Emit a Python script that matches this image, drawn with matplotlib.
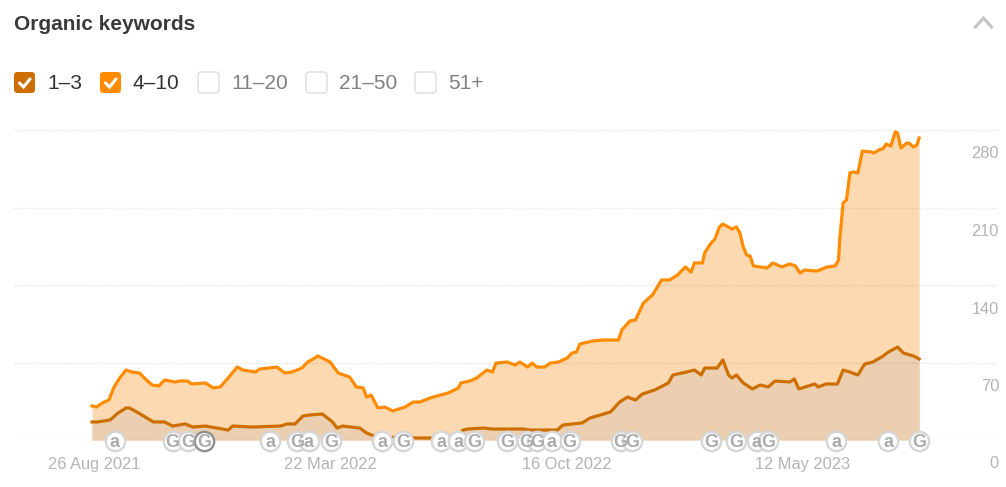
import numpy as np
import matplotlib
matplotlib.use("Agg")
import matplotlib.pyplot as plt
import matplotlib.dates as mdates
from matplotlib.patches import FancyBboxPatch
from matplotlib.transforms import ScaledTranslation

plt.rcParams['font.family'] = ['Liberation Sans', 'DejaVu Sans']

TITLE = "Organic keywords"
START = np.datetime64('2021-08-24')
TICK_DATES = ['2021-08-26', '2022-03-22', '2022-10-16', '2023-05-12']
TICK_LABELS = ['26 Aug 2021', '22 Mar 2022', '16 Oct 2022', '12 May 2023']
Y_TICKS = [0, 70, 140, 210, 280]

legend_labels = ['1–3', '4–10', '11–20', '21–50', '51+']
legend_checked = [True, True, False, False, False]

days_4_10 = [0,4,9,15,19,25,30,35,42,47,53,59,64,73,78,84,88,100,107,113,120,128,133,144,148,163,170,176,185,190,195,199,
             210,217,227,233,239,242,246,252,258,265,276,283,289,298,307,314,323,325,333,339,348,353,356,366,373,377,384,
             388,392,399,404,411,419,423,427,430,441,450,461,464,467,474,479,486,494,502,509,516,523,528,531,538,540,545,
             549,553,556,564,568,571,574,577,580,583,595,600,608,615,620,624,628,639,648,655,658,659,661,662,665,668,671,
             675,679,687,689,695,697,700,704,708,710,713,718,720,724,727,729]
kw_4_10 = [30.7,29.8,33.4,36.1,47.0,56.9,63.2,61.4,60.5,55.1,49.7,48.8,54.2,52.4,53.3,53.3,50.6,51.5,47.0,47.9,56.0,65.9,63.2,61.4,
           64.1,65.9,60.5,61.4,65.0,70.4,73.2,75.9,70.4,60.5,56.9,47.9,47.0,38.8,40.6,28.9,29.8,26.2,29.8,34.3,34.3,37.9,40.6,42.5,
           47.0,51.5,53.3,56.0,63.2,61.4,69.5,70.4,67.7,70.4,65.9,69.5,65.9,65.9,69.5,70.4,74.1,78.6,79.5,86.7,89.4,90.3,90.3,90.3,
           99.4,107.5,108.4,123.7,131.0,144.5,144.5,149.0,156.3,151.7,159.9,159.9,168.9,177.0,181.5,192.4,195.1,190.6,192.4,187.0,
           174.3,167.1,166.2,157.2,155.4,159.9,156.3,159.0,157.2,150.8,153.5,152.6,156.3,157.2,162.6,180.6,203.2,214.1,216.8,241.2,
           242.1,241.2,261.0,260.1,259.2,262.8,262.8,267.3,265.5,278.2,277.3,263.7,268.2,268.2,264.6,266.4,272.8]

days_1_3 = [0,5,16,23,30,33,41,54,64,71,82,89,100,115,120,124,141,166,172,179,186,192,203,212,216,221,236,242,251,289,300,320,327,
            331,345,353,380,386,410,415,432,439,448,457,465,472,479,485,496,508,512,524,531,537,540,551,556,561,564,568,574,582,
            589,596,602,615,619,623,637,640,647,657,662,668,675,681,688,696,702,710,715,724,729]
kw_1_3 = [16.3,16.3,18.1,24.4,28.9,28.9,24.4,16.3,16.3,12.6,14.5,11.7,12.6,9.9,9.0,12.6,11.7,12.6,14.5,14.5,21.7,22.6,23.5,16.3,10.8,
          12.6,10.8,6.3,2.7,1.8,1.8,1.8,9.0,9.9,10.8,9.9,9.9,9.0,9.0,13.5,15.4,19.9,22.6,25.3,34.3,38.8,36.1,41.5,45.2,51.5,58.7,
          61.4,63.2,58.7,65.0,65.0,72.3,58.7,56.0,58.7,51.5,46.1,49.7,47.9,53.3,52.4,55.1,46.1,50.6,47.9,50.6,50.6,63.2,61.4,58.7,
          68.6,70.4,75.0,79.5,84.0,78.6,75.9,73.2]

event_days = [20,71,85,99,157,181,191,211,256,274,308,323,337,366,383,392,405,421,466,476,546,568,586,596,656,702,729]
event_kinds = list("aGGGaGaGaGaaGGGGaGGGGGaGaaG")
HIGHLIGHT_EVENT = 99

C_DARK = '#cc6f00'
C_ORANGE = '#ff8c00'

W, H = 1006, 487
fig = plt.figure(figsize=(W / 100, H / 100), dpi=100, facecolor='white')


def to_dates(days):
    return START + np.array(days, dtype='timedelta64[D]')


# Plot axes: gridlines run from x=14 to x=998 px, y=130 to y=440 px
ax = fig.add_axes([14 / W, 1 - 440 / H, (998 - 14) / W, 310 / H])
PX_PER_DAY = 1.1346
ax.set_xlim(mdates.date2num(START) - (92 - 14) / PX_PER_DAY,
            mdates.date2num(START) + (998 - 92) / PX_PER_DAY)
ax.set_ylim(0, 280)
for s in ax.spines.values():
    s.set_visible(False)

x_o, x_d = to_dates(days_4_10), to_dates(days_1_3)
ax.fill_between(x_o, kw_4_10, 0, color='#fdd9b2', lw=0, zorder=1)
ax.fill_between(x_d, kw_1_3, 0, color='#eccfb1', lw=0, zorder=2)
ax.set_yticks(Y_TICKS)
ax.grid(axis='y', color='#000000', alpha=0.10, lw=1, ls=(0, (1, 1)), zorder=3)
ax.set_axisbelow(False)
ax.plot(x_o, kw_4_10, color=C_ORANGE, lw=2.3, zorder=4, solid_joinstyle='round')
ax.plot(x_d, kw_1_3, color=C_DARK, lw=2.3, zorder=5, solid_joinstyle='round')

# ticks
ax.set_xticks([np.datetime64(d) for d in TICK_DATES])
ax.set_xticklabels(TICK_LABELS, fontsize=11.8, color='#b4b4b4')
ax.tick_params(axis='x', length=0, pad=12)
ax.yaxis.tick_right()
ax.set_yticklabels([str(v) for v in Y_TICKS], fontsize=11.8, color='#b4b4b4')
ax.tick_params(axis='y', length=0, pad=0)
down = ScaledTranslation(1 / 100, -24 / 100, fig.dpi_scale_trans)
for lab in ax.get_yticklabels():
    lab.set_ha('right')
    lab.set_va('center')
    lab.set_transform(lab.get_transform() + down)

# event badges
for d, k in zip(event_days, event_kinds):
    xd = START + np.timedelta64(d, 'D')
    edge = '#8f8f8f' if d == HIGHLIGHT_EVENT else '#d6d6d6'
    ax.scatter([xd], [-0.9], s=195, facecolor='white', edgecolor=edge, lw=1.7,
               zorder=6, clip_on=False)
    ax.text(xd, -0.9, k, ha='center', va='center_baseline', fontsize=13, fontweight='bold',
            color='#ababab', zorder=7, clip_on=False)

# UI chrome, in pixel coordinates
ui = fig.add_axes([0, 0, 1, 1], facecolor='none')
ui.set_xlim(0, W)
ui.set_ylim(H, 0)
ui.axis('off')
ui.text(14, 25, TITLE, fontsize=15, fontweight='bold', color='#3a3a3a', va='center', ha='left')

box_x = [14, 100, 198, 306, 415]
box_colors = [C_DARK, C_ORANGE, None, None, None]
for bx, lab, chk, col in zip(box_x, legend_labels, legend_checked, box_colors):
    if chk:
        ui.add_patch(FancyBboxPatch((bx + 3, 75), 15, 15, boxstyle='round,pad=3,rounding_size=3.5',
                                    fc=col, ec='none'))
        ui.plot([bx + 5.5, bx + 9.5, bx + 16], [83, 87, 79], color='white', lw=2.2,
                solid_capstyle='round', solid_joinstyle='miter')
    else:
        ui.add_patch(FancyBboxPatch((bx + 3, 75), 15, 15, boxstyle='round,pad=3,rounding_size=3.5',
                                    fc='white', ec='#dcdcdc', lw=1))
    ui.text(bx + 33, 83.5, lab, fontsize=15, va='center', ha='left',
            color='#333333' if chk else '#808080')

ui.plot([975.5, 983.5, 991.5], [27, 18, 27], color='#c4c4c4', lw=2.2, solid_joinstyle='miter')

fig.savefig('out.png', dpi=100)
